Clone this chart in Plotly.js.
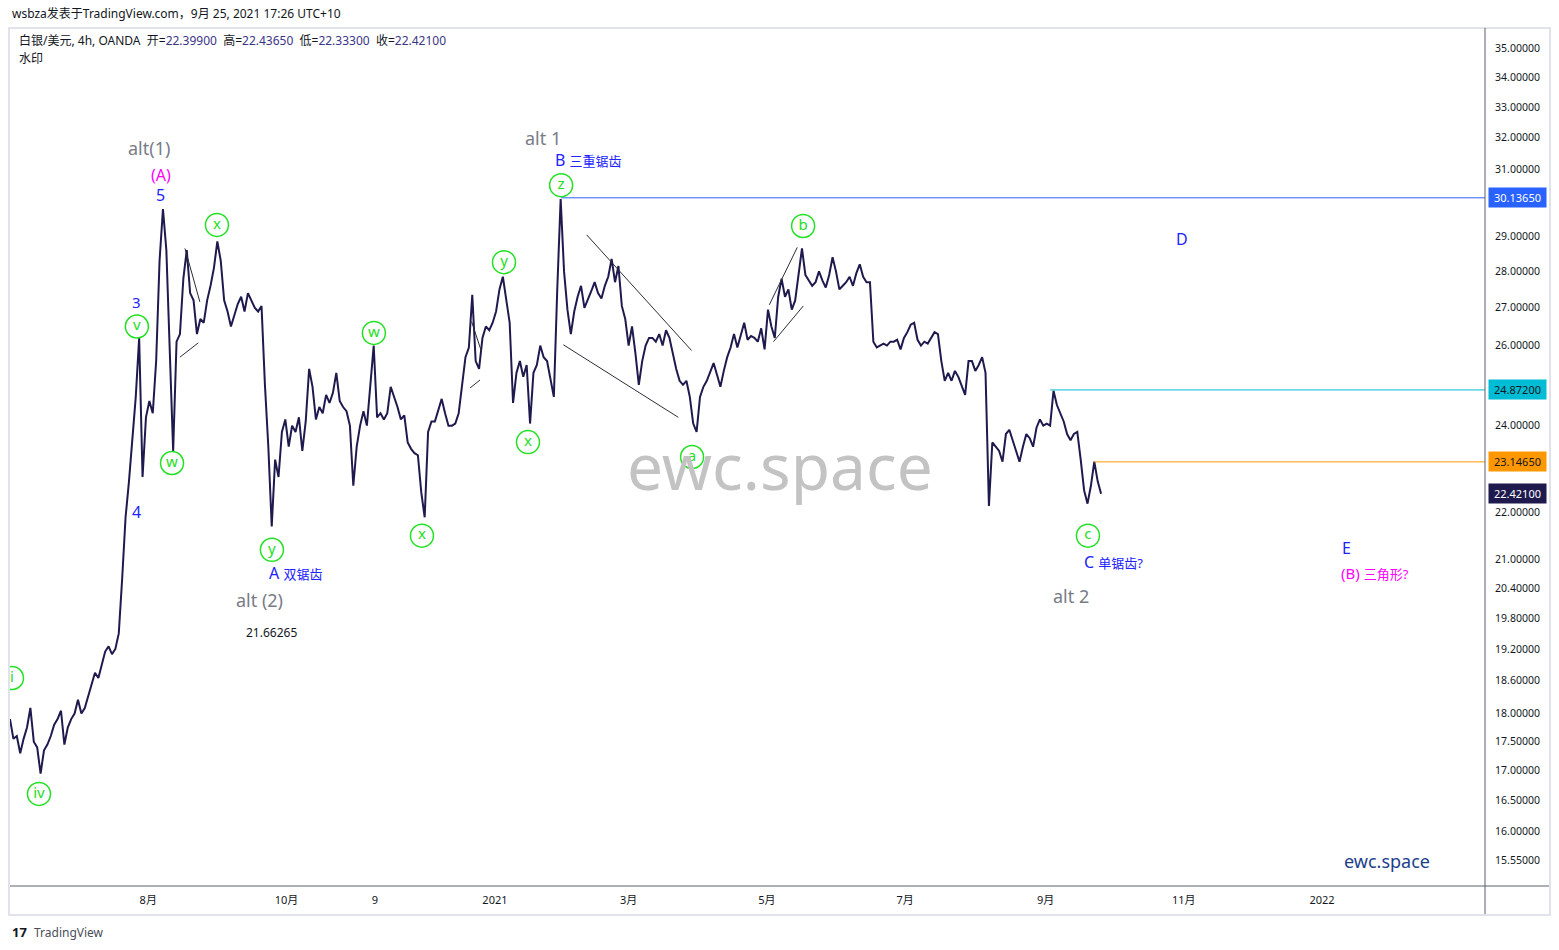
<!DOCTYPE html>
<html><head><meta charset="utf-8">
<script src="https://cdn.plot.ly/plotly-3.0.1.min.js"></script>
<style>html,body{margin:0;padding:0;background:#fff;} #chart{width:1559px;height:950px;}</style>
</head><body><div id="chart"></div>
<script>
// ---- data (XAG/USD, 4h, OANDA) ----
const seriesStart = '2020-06-01T00:00:00Z';
const barHours = 36;
const closes = [
17.9,17.55,17.6,17.3,17.55,17.75,18.1,17.5,17.4,16.95,
17.35,17.45,17.6,17.8,17.9,18.05,17.45,17.75,17.9,18.0,
18.25,18.0,18.1,18.3,18.5,18.75,18.65,18.9,19.15,19.25,
19.1,19.2,19.5,20.6,21.9,22.7,23.8,24.7,26.2,22.8,
24.2,24.6,24.3,25.6,28.3,29.8,28.6,25.9,23.4,26.1,
26.3,27.8,28.6,27.4,27.2,26.3,26.7,26.6,27.2,27.6,
28.1,28.85,28.3,27.2,26.9,26.5,26.8,27.1,27.3,26.9,
27.4,27.2,27.0,26.9,27.05,25.0,23.5,21.7,23.2,22.8,
23.85,24.15,23.5,24.0,23.85,24.2,23.4,24.1,25.4,24.95,
24.15,24.45,24.3,24.75,24.55,24.8,25.3,24.6,24.45,24.35,
24.0,22.6,23.5,24.0,24.35,24.0,25.1,26.0,24.2,24.3,
24.15,24.3,24.95,24.7,24.45,24.15,24.25,23.6,23.45,23.35,
23.3,22.45,21.9,23.85,24.1,24.1,24.4,24.65,24.3,24.0,
24.0,24.05,24.3,25.0,25.7,25.95,27.35,25.6,25.4,26.2,
26.5,26.4,26.6,26.9,27.5,27.85,27.2,26.6,24.55,25.3,
25.6,25.2,25.5,24.05,25.3,25.5,26.0,25.7,25.6,25.1,
24.7,27.5,30.1,28.0,26.95,26.3,26.9,27.3,27.6,27.0,
27.2,27.45,27.7,27.4,27.25,27.6,27.85,28.35,27.7,28.15,
27.05,26.7,26.0,26.5,25.8,25.0,25.6,26.0,26.2,26.2,
26.1,26.3,26.0,26.4,26.2,25.8,25.4,25.1,25.0,25.1,
24.7,24.05,23.85,24.7,24.95,25.1,25.35,25.55,25.25,24.95,
25.35,25.7,25.95,26.3,25.95,26.3,26.6,26.15,26.25,26.2,
26.1,26.45,25.9,26.95,26.5,26.2,27.3,27.8,27.3,27.5,
26.95,27.2,27.9,28.65,27.9,27.75,27.6,27.7,28.0,27.75,
27.55,27.9,28.4,28.0,27.5,27.6,27.7,27.85,27.6,27.95,
28.2,27.85,27.7,27.7,26.1,25.95,26.0,26.05,26.0,26.1,
26.1,26.15,25.9,26.2,26.35,26.55,26.6,26.15,26.0,26.1,
26.05,26.2,26.35,26.3,25.6,25.1,25.3,25.1,25.35,25.2,
24.95,24.75,25.6,25.6,25.35,25.5,25.7,25.3,22.15,23.6,
23.5,23.4,23.15,23.8,23.9,23.65,23.45,23.15,23.5,23.8,
23.7,23.5,23.95,24.15,24.0,24.05,24.0,24.85,24.5,24.3,
24.1,23.8,23.65,23.8,23.85,23.2,22.5,22.2,22.6,23.15,
22.7,22.42
];

// horizontal levels
const levelPrices = [30.1365, 24.872, 23.1465];
const levelStarts = ['2021-01-30 05:00', '2021-09-03 00:00', '2021-09-22 10:00'];
const levelLabels = ['30.13650', '24.87200', '23.14650'];
const lastClose = 22.421;
const lastLabel = '22.42100';

// wave-count circled labels
const circleText = ['i','iv','v','w','x','y','w','x','y','x','z','a','b','c'];
const circleDates = ['2020-06-01 21:00','2020-06-13 19:00','2020-07-27 00:00','2020-08-11 12:00','2020-08-31 08:00','2020-09-24 14:00','2020-11-08 14:00','2020-11-29 19:00','2021-01-05 00:00','2021-01-15 14:00','2021-01-30 05:00','2021-03-29 00:00','2021-05-17 00:00','2021-09-19 17:00'];
const circlePrices = [18.65,16.61,26.50,23.12,29.33,21.20,26.33,21.50,28.26,23.61,30.52,23.26,29.30,21.50];

// drawn trend lines (pairs of endpoints)
const trendDates = [
 ['2021-02-10 12:00','2021-03-28 19:00'],
 ['2021-01-31 05:00','2021-03-22 22:00'],
 ['2021-05-02 02:00','2021-05-14 10:00'],
 ['2021-05-03 22:00','2021-05-17 02:00'],
 ['2020-08-17 05:00','2020-08-23 19:00'],
 ['2020-08-15 00:00','2020-08-23 02:00'],
 ['2020-12-21 17:00','2020-12-26 02:00'],
 ['2020-12-21 00:00','2020-12-25 10:00']
];
const trendPrices = [
 [29.04,25.87],[26.02,24.20],[27.08,28.68],[26.10,27.05],
 [28.65,27.16],[25.70,26.07],[26.63,25.84],[24.92,25.12]
];

// x-axis tick labels
const tickDates = ['2020-08-01','2020-10-01','2020-11-09','2021-01-01','2021-03-01','2021-05-01','2021-07-01','2021-09-01','2021-11-01','2022-01-01'];
const tickLabels = ['8月','10月','9','2021','3月','5月','7月','9月','11月','2022'];
// y-axis tick labels (30, 25, 23 are hidden behind the price labels in the reference)
const yTicks = [35,34,33,32,31,29,28,27,26,24,22,21,20.4,19.8,19.2,18.6,18,17.5,17,16.5,16,15.55];

// ---- build ----
const FONT = '"Noto Sans", "Noto Sans CJK SC", sans-serif';
const INK = '#131722';
const BAR = '#1f1a4d';
const GREEN = '#22e022';
const BLUE = '#2222ff';
const MAG = '#ff00ff';
const GRAY = '#787b86';

const t0 = Date.parse(seriesStart);
const fmt = ms => new Date(ms).toISOString().slice(0,19).replace('T',' ');
const dates = closes.map((_, i) => fmt(t0 + i * barHours * 3600e3));

const traces = [];
traces.push({x: dates, y: closes, type: 'scatter', mode: 'lines',
  line: {color: BAR, width: 2}, hoverinfo: 'skip'});

const levelColors = ['#2962ff', '#00bcd4', '#ff9800'];
levelPrices.forEach((p, k) => {
  traces.push({x: [levelStarts[k], '2022-06-01'], y: [p, p], type: 'scatter', mode: 'lines',
    line: {color: levelColors[k], width: 1}, hoverinfo: 'skip'});
});

const tx = [], ty = [];
trendDates.forEach((d, k) => { tx.push(d[0], d[1], null); ty.push(trendPrices[k][0], trendPrices[k][1], null); });
traces.push({x: tx, y: ty, type: 'scatter', mode: 'lines', connectgaps: false,
  line: {color: '#2a2e39', width: 1}, hoverinfo: 'skip'});

traces.push({x: circleDates, y: circlePrices, text: circleText, type: 'scatter', mode: 'markers+text',
  textposition: 'middle center',
  textfont: {family: FONT, size: 15, color: GREEN},
  marker: {symbol: 'circle-open', size: 23, color: GREEN, line: {width: 1.5, color: GREEN}},
  hoverinfo: 'skip'});

const L = Math.log10;
const ann = [];
function lab(text, d, p, color, size) {
  ann.push({x: d, y: L(p), xref: 'x', yref: 'y', text: text, showarrow: false,
    xanchor: 'center', yanchor: 'middle', font: {family: FONT, size: size, color: color}});
}
const sm = s => '<span style="font-size:13px">' + s + '</span>';
lab('alt(1)', '2020-08-01 07:00', 31.67, GRAY, 18);
lab('(A)', '2020-08-06 14:00', 30.83, MAG, 16);
lab('5', '2020-08-06 14:00', 30.22, BLUE, 16);
lab('3', '2020-07-27 00:00', 27.15, BLUE, 15);
lab('4', '2020-07-27 00:00', 22.02, BLUE, 16);
lab('alt 1', '2021-01-22 05:00', 31.99, GRAY, 18);
lab('B ' + sm('三重锯齿'), '2021-02-11 12:00', 31.29, BLUE, 16);
lab('A ' + sm('双锯齿'), '2020-10-05 05:00', 20.72, BLUE, 16);
lab('alt (2)', '2020-09-18 22:00', 20.16, GRAY, 18);
lab('21.66265', '2020-09-24 05:00', 19.51, INK, 12);
lab('C ' + sm('单锯齿?'), '2021-09-30 19:00', 20.94, BLUE, 16);
lab('alt 2', '2021-09-12 05:00', 20.24, GRAY, 18);
lab('D', '2021-10-31 05:00', 28.92, BLUE, 16);
lab('E', '2022-01-11 14:00', 21.24, BLUE, 16);
lab('(B) ' + sm('三角形?'), '2022-01-24 10:00', 20.72, MAG, 15);

// right-side price labels
const boxes = [[levelPrices[0], levelLabels[0], '#2962ff', '#ffffff'],
               [levelPrices[1], levelLabels[1], '#00bcd4', INK],
               [levelPrices[2], levelLabels[2], '#ff9800', INK],
               [lastClose, lastLabel, BAR, '#ffffff']];
boxes.forEach(b => ann.push({xref: 'paper', x: 1.002, xanchor: 'left', yref: 'y', y: L(b[0]), yanchor: 'middle',
  text: b[1], showarrow: false, bgcolor: b[2], borderpad: 2, width: 53,
  font: {family: FONT, size: 11, color: b[3]}}));

// paper-positioned texts
const px = v => (v - 10) / 1475, py = v => (886 - v) / 858;
ann.push({xref: 'paper', yref: 'paper', x: px(10), y: py(14), xanchor: 'left', yanchor: 'middle', showarrow: false,
  text: 'wsbza发表于TradingView.com，9月 25, 2021 17:26 UTC+10', font: {family: FONT, size: 12, color: INK}});
const num = s => '<span style="color:#3b3585">' + s + '</span>';
ann.push({xref: 'paper', yref: 'paper', x: px(17), y: py(41), xanchor: 'left', yanchor: 'middle', showarrow: false,
  text: '白银/美元, 4h, OANDA\u00a0\u00a0开=' + num('22.39900') + '\u00a0\u00a0高=' + num('22.43650') + '\u00a0\u00a0低=' + num('22.33300') + '\u00a0\u00a0收=' + num('22.42100'),
  font: {family: FONT, size: 12, color: INK}});
ann.push({xref: 'paper', yref: 'paper', x: px(17), y: py(58), xanchor: 'left', yanchor: 'middle', showarrow: false,
  text: '水印', font: {family: FONT, size: 12, color: INK}});
ann.push({xref: 'paper', yref: 'paper', x: px(780), y: py(465), xanchor: 'center', yanchor: 'middle', showarrow: false,
  text: 'ewc.space', font: {family: FONT, size: 64, color: '#c3c3c3'}});
ann.push({xref: 'paper', yref: 'paper', x: px(1387), y: py(861), xanchor: 'center', yanchor: 'middle', showarrow: false,
  text: 'ewc.space', font: {family: FONT, size: 18, color: '#1c3f8c'}});
ann.push({xref: 'paper', yref: 'paper', x: px(10), y: py(932), xanchor: 'left', yanchor: 'middle', showarrow: false,
  text: '<b>17</b>', font: {family: FONT, size: 13, color: INK}});
ann.push({xref: 'paper', yref: 'paper', x: px(32), y: py(932), xanchor: 'left', yanchor: 'middle', showarrow: false,
  text: 'TradingView', font: {family: FONT, size: 12, color: '#4a4e59'}});

const shapes = [
  {type: 'rect', xref: 'paper', yref: 'paper', x0: px(9), x1: px(1550), y0: py(915), y1: py(28),
   line: {color: '#e0e3eb', width: 2}, fillcolor: 'rgba(0,0,0,0)', layer: 'below'},
  {type: 'line', xref: 'paper', yref: 'paper', x0: 0, x1: px(1549), y0: 0, y1: 0, line: {color: '#5d606b', width: 1}},
  {type: 'line', xref: 'paper', yref: 'paper', x0: 1, x1: 1, y0: py(914), y1: py(28), line: {color: '#5d606b', width: 1}}
];

const layout = {
  width: 1559, height: 950,
  margin: {l: 10, r: 74, t: 28, b: 64},
  paper_bgcolor: '#ffffff', plot_bgcolor: '#ffffff',
  showlegend: false, hovermode: false,
  xaxis: {type: 'date', range: ['2020-06-01 00:00', '2022-03-13 22:00'],
    tickvals: tickDates, ticktext: tickLabels, showgrid: false, zeroline: false,
    showline: false, ticks: 'outside', ticklen: 4, tickcolor: 'rgba(0,0,0,0)',
    tickfont: {family: FONT, size: 11, color: INK}},
  yaxis: {type: 'log', side: 'right', range: [L(15.15), L(35.71)],
    tickvals: yTicks, ticktext: yTicks.map(v => v.toFixed(5)),
    showgrid: false, zeroline: false, showline: false,
    ticks: 'outside', ticklen: 7, tickcolor: 'rgba(0,0,0,0)',
    tickfont: {family: FONT, size: 10.5, color: INK}},
  annotations: ann,
  shapes: shapes
};

Plotly.newPlot('chart', traces, layout, {staticPlot: true, displayModeBar: false});
</script>
</body></html>
